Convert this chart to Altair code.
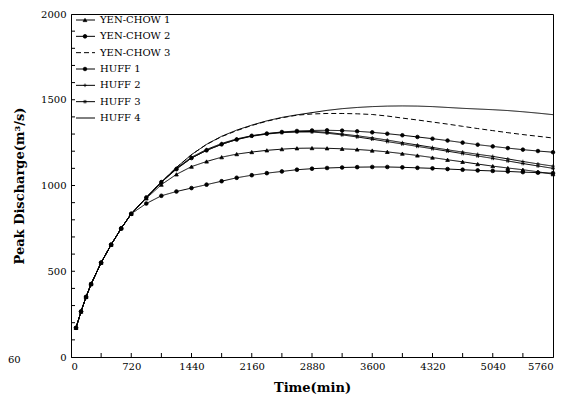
import altair as alt
import pandas as pd

times = [60, 120, 180, 240, 360, 480, 600, 720,
         900, 1080, 1260, 1440, 1620, 1800, 1980, 2160, 2340, 2520, 2700,
         2880, 3060, 3240, 3420, 3600, 3780, 3960, 4140, 4320, 4500, 4680,
         4860, 5040, 5220, 5400, 5580, 5760]

rising = [170, 265, 350, 425, 550, 655, 750, 835]

yen_chow_1 = rising + [925, 1005, 1065, 1110, 1140, 1165, 1183, 1195, 1205, 1212, 1217,
                       1218, 1217, 1214, 1210, 1204, 1196, 1186, 1175, 1163, 1150, 1138,
                       1125, 1113, 1102, 1092, 1080, 1066]
yen_chow_2 = rising + [895, 940, 965, 985, 1005, 1025, 1045, 1060, 1072, 1082, 1092,
                       1098, 1102, 1105, 1107, 1108, 1108, 1106, 1103, 1100, 1096, 1092,
                       1088, 1085, 1082, 1078, 1075, 1072]
yen_chow_3 = rising + [930, 1020, 1105, 1180, 1240, 1285, 1320, 1350, 1375, 1395, 1410,
                       1417, 1420, 1420, 1418, 1414, 1405, 1393, 1382, 1370, 1358, 1345,
                       1332, 1320, 1308, 1297, 1287, 1277]
huff_1 = rising + [930, 1020, 1095, 1160, 1205, 1240, 1268, 1290, 1303, 1312, 1318,
                   1321, 1322, 1320, 1316, 1310, 1302, 1293, 1283, 1273, 1262, 1250,
                   1238, 1228, 1218, 1209, 1201, 1194]
huff_2 = rising + [930, 1020, 1100, 1165, 1210, 1245, 1272, 1290, 1302, 1310, 1314,
                   1315, 1310, 1300, 1290, 1278, 1265, 1250, 1236, 1222, 1208, 1195,
                   1182, 1170, 1155, 1140, 1126, 1113]
huff_3 = rising + [930, 1018, 1098, 1160, 1205, 1240, 1268, 1287, 1300, 1308, 1312,
                   1312, 1305, 1295, 1283, 1270, 1256, 1242, 1228, 1214, 1200, 1186,
                   1172, 1158, 1143, 1128, 1114, 1100]
huff_4 = rising + [930, 1020, 1105, 1180, 1240, 1287, 1323, 1352, 1377, 1397, 1412,
                   1425, 1438, 1448, 1455, 1460, 1463, 1464, 1463, 1460, 1455, 1450,
                   1446, 1442, 1437, 1430, 1422, 1413]

series_names = ["YEN-CHOW 1", "YEN-CHOW 2", "YEN-CHOW 3", "HUFF 1", "HUFF 2", "HUFF 3", "HUFF 4"]
series_values = [yen_chow_1, yen_chow_2, yen_chow_3, huff_1, huff_2, huff_3, huff_4]
marked = ["YEN-CHOW 1", "YEN-CHOW 2", "HUFF 1", "HUFF 2", "HUFF 3"]

x_labels = [0, 720, 1440, 2160, 2880, 3600, 4320, 5040, 5760]
x_minor = [360, 720, 1080, 1440, 1800, 2160, 2520, 2880, 3240, 3600, 3960, 4320, 4680, 5040, 5400]
y_labels = [0, 500, 1000, 1500, 2000]
y_minor = [100, 200, 300, 400, 500, 600, 700, 800, 900, 1000, 1100, 1200, 1300, 1400,
           1500, 1600, 1700, 1800, 1900]

rows = []
for name, vals in zip(series_names, series_values):
    for t, v in zip(times, vals):
        rows.append({"series": name, "t": t, "q": v})
df = pd.DataFrame(rows)
df_marked = df[df["series"].isin(marked)]

FONT = "DejaVu Serif"

dash_scale = alt.Scale(domain=series_names,
                       range=[[1, 0], [1, 0], [5, 3], [1, 0], [1, 0], [1, 0], [1, 0]])
shape_scale = alt.Scale(domain=series_names,
                        range=["triangle-up", "circle", "circle", "circle",
                               "M-1,0H1M0,-1V1",
                               "M-1,0H1M-0.45,-1V1M0.45,-1V1",
                               "circle"])
size_scale = alt.Scale(domain=series_names, range=[14, 12, 10, 7, 30, 30, 10])

xs = alt.Scale(domain=[0, 5760], nice=False)
ys = alt.Scale(domain=[0, 2000], nice=False)

x_enc = alt.X("t:Q", scale=xs,
              axis=alt.Axis(values=x_labels, format="d", title="Time(min)", ticks=False,
                            grid=False, labelFont=FONT, labelFontSize=10, labelColor="black",
                            labelPadding=4, labelFlush=True, titleFont=FONT, titleFontSize=13,
                            titleFontWeight="bold", titleColor="black", titlePadding=10,
                            domainColor="black"))
y_enc = alt.Y("q:Q", scale=ys,
              axis=alt.Axis(values=y_labels, format="d", title="Peak Discharge(m³/s)",
                            ticks=False, grid=False, labelFont=FONT, labelFontSize=10,
                            labelColor="black", labelPadding=5, labelFlush=False,
                            titleFont=FONT, titleFontSize=13, titleFontWeight="bold",
                            titleColor="black", titlePadding=14, domainColor="black"))

lines = alt.Chart(df).mark_line(color="black", strokeWidth=1).encode(
    x=x_enc, y=y_enc,
    strokeDash=alt.StrokeDash("series:N", scale=dash_scale, legend=None),
    detail="series:N",
)
points = alt.Chart(df_marked).mark_point(fill="black", stroke="black", strokeWidth=0.8,
                                         opacity=1).encode(
    x=alt.X("t:Q", scale=xs), y=alt.Y("q:Q", scale=ys),
    shape=alt.Shape("series:N", scale=shape_scale, legend=None),
    size=alt.Size("series:N", scale=size_scale, legend=None),
)

ytick_df = pd.DataFrame({"q": y_minor})
yticks = alt.Chart(ytick_df).mark_rule(color="black", strokeWidth=1).encode(
    y=alt.Y("q:Q", scale=ys), x=alt.value(0), x2=alt.value(4))
xtick_df = pd.DataFrame({"t": x_minor})
xticks = alt.Chart(xtick_df).mark_rule(color="black", strokeWidth=1).encode(
    x=alt.X("t:Q", scale=xs), y=alt.value(343), y2=alt.value(339))

main = alt.layer(lines, points, yticks, xticks)

leg_df = pd.DataFrame({"series": series_names})
leg_y = alt.Y("series:N", sort=series_names,
              scale=alt.Scale(type="point", domain=series_names, range=[6, 104], padding=0),
              axis=None)
leg_lines = alt.Chart(leg_df).mark_rule(color="black", strokeWidth=1).encode(
    y=leg_y, x=alt.value(5), x2=alt.value(24),
    strokeDash=alt.StrokeDash("series:N", scale=dash_scale, legend=None))
leg_pts = alt.Chart(leg_df[leg_df["series"].isin(marked)]).mark_point(
    fill="black", stroke="black", strokeWidth=0.8, opacity=1).encode(
    y=leg_y, x=alt.value(14),
    shape=alt.Shape("series:N", scale=shape_scale, legend=None),
    size=alt.Size("series:N", scale=size_scale, legend=None))
leg_text = alt.Chart(leg_df).mark_text(align="left", baseline="middle", font=FONT,
                                       fontSize=10, color="black").encode(
    y=leg_y, x=alt.value(29), text="series:N")
legend = alt.layer(leg_lines, leg_pts, leg_text)

stray = alt.Chart(pd.DataFrame({"s": ["60"]})).mark_text(
    align="left", baseline="middle", font=FONT, fontSize=10, color="black").encode(
    x=alt.value(-63), y=alt.value(346), text="s:N")

chart = alt.layer(main, legend, stray).resolve_scale(y="independent").properties(
    width=482, height=343,
    autosize=alt.AutoSizeParams(type="none"),
    padding={"left": 63, "top": 6, "right": 10, "bottom": 38},
).configure_view(stroke="black", strokeWidth=1)

chart.save("out.html", embed_options={"renderer": "svg", "actions": False})
